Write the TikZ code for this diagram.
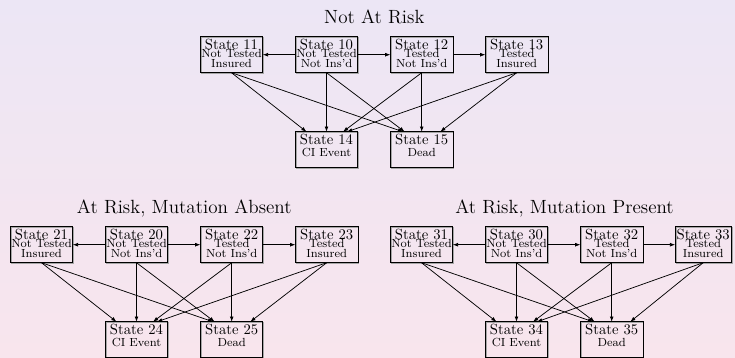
\documentclass[tikz,border=0pt]{standalone}
\usetikzlibrary{arrows.meta}
\definecolor{bgtop}{RGB}{236,230,245}
\definecolor{bgbot}{RGB}{248,229,237}
\newcommand\tristack[3]{\vbox{\offinterlineskip\halign{\hfil##\hfil\cr
 \fontsize{10}{12}\selectfont\smash{#1}\rule{0pt}{6.8pt}\cr
 \fontsize{8}{9.6}\selectfont\smash{#2}\rule{0pt}{5.7pt}\cr
 \fontsize{8}{9.6}\selectfont\smash{#3}\rule[-2.0pt]{0pt}{8.6pt}\cr}}}
\newcommand\duostack[2]{\vbox{\offinterlineskip\halign{\hfil##\hfil\cr
 \fontsize{10}{12}\selectfont\smash{#1}\rule{0pt}{6.8pt}\cr
 \fontsize{8}{9.6}\selectfont\smash{#2}\rule[-6.1pt]{0pt}{14.3pt}\cr}}}
\newcommand\stgroup[4]{%
\begin{scope}[shift={(#2,#3)}]
\node[stbox] (s#11) at (231.5,54.7) {\tristack{State #11}{Not Tested}{Insured}};
\node[stbox] (s#10) at (326.5,54.7) {\tristack{State #10}{Not Tested}{Not Ins'd}};
\node[stbox] (s#12) at (421.7,54.7) {\tristack{State #12}{Tested}{Not Ins'd}};
\node[stbox,#4] (s#13) at (516.7,54.7) {\tristack{State #13}{Tested}{Insured}};
\node[stbox] (s#14) at (326.5,149.8) {\duostack{State #14}{CI Event}};
\node[stbox] (s#15) at (421.7,149.8) {\duostack{State #15}{Dead}};
\draw[conn] (s#10.west) -- (s#11.east);
\draw[conn] (s#10.east) -- (s#12.west);
\draw[conn] (s#12.east) -- (s#13.west);
\draw[conn] (s#11.south) -- ([xshift=-13.6pt]s#14.north);
\draw[conn] (s#11.south) -- ([xshift=-12.6pt]s#15.north);
\draw[conn] (s#10.south) -- (s#14.north);
\draw[conn] (s#10.south) -- ([xshift=-11.6pt]s#15.north);
\draw[conn] (s#12.south) -- ([xshift=11.2pt]s#14.north);
\draw[conn] (s#12.south) -- (s#15.north);
\draw[conn] (s#13.south) -- ([xshift=13.9pt]s#14.north);
\draw[conn] (s#13.south) -- ([xshift=12.6pt]s#15.north);
\end{scope}}
\begin{document}
\begin{tikzpicture}[x={(0.68027pt,0)}, y={(0,-0.68027pt)},
  stbox/.style={draw, line width=0.6pt, minimum width=42.5pt, minimum height=24.5pt,
    inner sep=0pt, outer sep=0pt,
    preaction={draw=black!35, line width=0.6pt, transform canvas={shift={(0.6pt,-0.6pt)}}}},
  conn/.style={line width=0.5pt, -{Latex[length=3.6pt,width=2.6pt]}},
  ttl/.style={anchor=base, font=\fontsize{13}{15}\selectfont, inner sep=0pt}]
\useasboundingbox (0,0) rectangle (735,357);
\clip (0,0) rectangle (735,357);
\shade[top color=bgtop, bottom color=bgbot] (0,0) rectangle (735,357);
\node[ttl] (t1) at (374.3,23.3) {Not At Risk};
\node[ttl] (t2) at (184.3,213.3) {At Risk, Mutation Absent};
\node[ttl] (t3) at (564.5,213.3) {At Risk, Mutation Present};
\stgroup{1}{0}{0}{}
\stgroup{2}{-190}{190}{}
\stgroup{3}{190}{190}{minimum width=38pt, xshift=-2.4pt}
\end{tikzpicture}
\end{document}
